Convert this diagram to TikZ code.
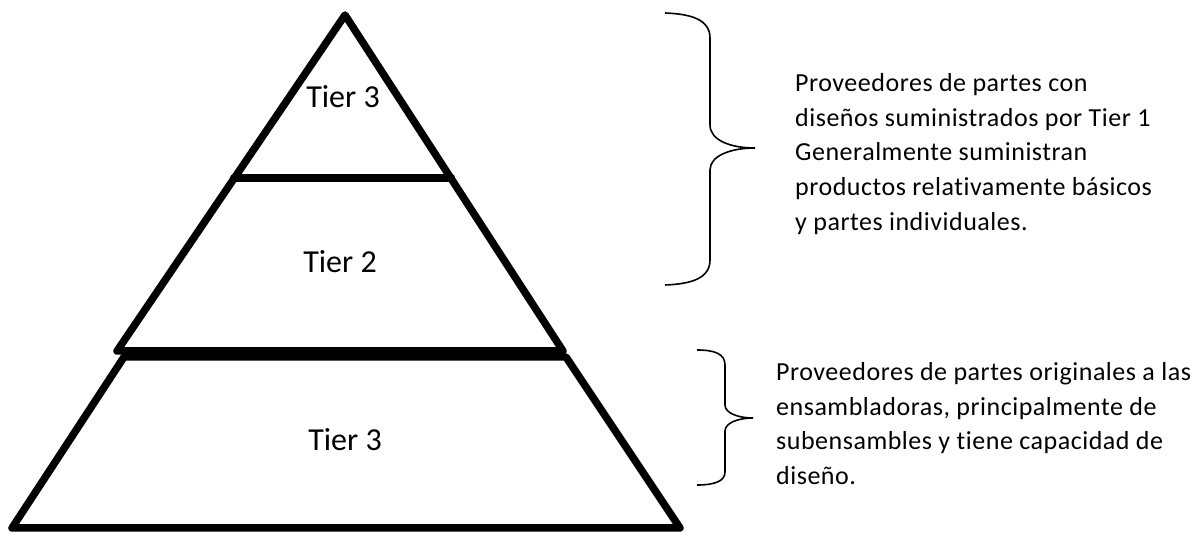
\documentclass[tikz,border=0pt]{standalone}
\usepackage{fontspec}
\setmainfont{Carlito}
\newfontfamily\descfont[LetterSpace=2,Ligatures=NoCommon]{Carlito}
\begin{document}
\begin{tikzpicture}[x=1pt,y=-1pt,
  pyr/.style={line width=7.5pt,line join=round,line cap=round},
  brace/.style={line width=1.6pt},
  tier/.style={font=\fontsize{32}{38}\selectfont,inner sep=0pt,anchor=base},
  desc/.style={font=\descfont\fontsize{26}{30}\selectfont,inner sep=0pt,anchor=base west}]
\useasboundingbox (0,0) rectangle (1203,534);
% upper pyramid
\coordinate (apex) at (345,15);
\coordinate (ul) at (117,351);
\coordinate (ur) at (563,351);
\draw[pyr] (apex) -- (ur) -- (ul) -- cycle;
\coordinate (ml) at (233.7,178);
\coordinate (mr) at (451.4,178);
\draw[pyr] (ml) -- (mr);
% lower trapezoid
\coordinate (bl) at (12,528);
\coordinate (br) at (680,528);
\coordinate (tr) at (566,357);
\coordinate (tl) at (124,357);
\draw[pyr] (bl) -- (br) -- (tr) -- (tl) -- cycle;
% labels
\node[tier] (t3a) at (343,108) {Tier 3};
\node[tier] (t2) at (340,273) {Tier 2};
\node[tier] (t3b) at (345,451) {Tier 3};
% braces
\draw[brace] (665,13) .. controls (692,14) and (710,20) .. (710,38) -- (710,125)
  .. controls (710,140) and (730,148) .. (755,148)
  .. controls (730,148) and (710,156) .. (710,170) -- (710,260)
  .. controls (710,278) and (692,284) .. (665,285);
\draw[brace] (697,350) .. controls (715,350) and (725,354) .. (725,365) -- (725,405)
  .. controls (725,413) and (738,418) .. (753,418)
  .. controls (738,418) and (725,423) .. (725,431) -- (725,472)
  .. controls (725,481) and (715,485) .. (697,485);
% upper text
\node[desc] (u1) at (795,92) {Proveedores de partes con};
\node[desc] (u2) at (795,127) {diseños suministrados por Tier 1};
\node[desc] (u3) at (795,161) {Generalmente suministran};
\node[desc] (u4) at (795,196) {productos relativamente básicos};
\node[desc] (u5) at (795,231) {y partes individuales.};
% lower text
\node[desc] (l1) at (776,381) {Proveedores de partes originales a las};
\node[desc] (l2) at (776,416) {ensambladoras, principalmente de};
\node[desc] (l3) at (776,450) {subensambles y tiene capacidad de};
\node[desc] (l4) at (776,485) {diseño.};
\end{tikzpicture}
\end{document}
